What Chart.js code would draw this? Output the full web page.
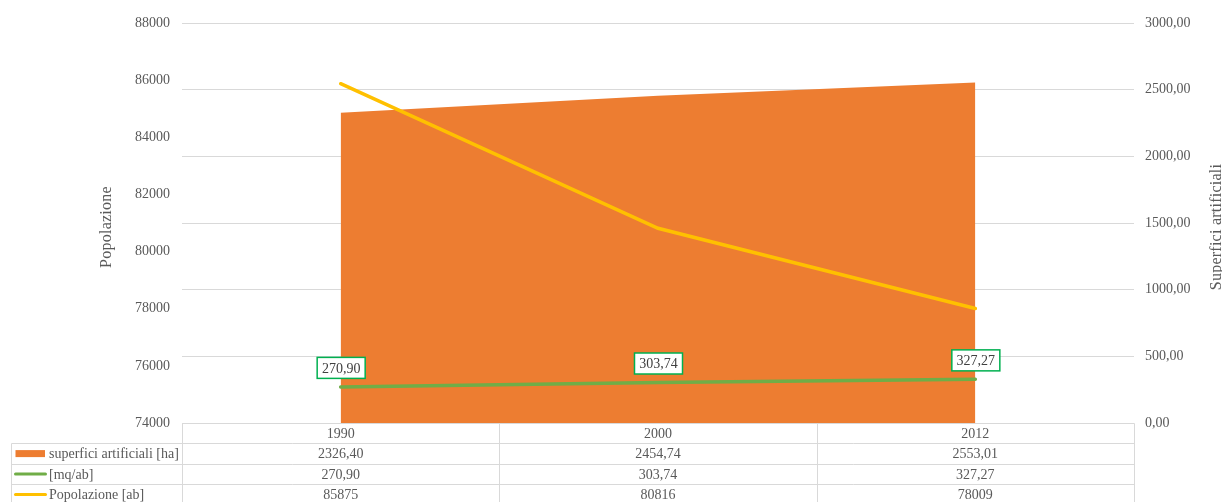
<!DOCTYPE html>
<html>
<head>
<meta charset="utf-8">
<script src="https://cdn.jsdelivr.net/npm/chart.js@4/dist/chart.umd.min.js"></script>
<style>
  html, body { margin: 0; padding: 0; background: #ffffff; }
  #wrap { width: 1222px; height: 502px; }
</style>
</head>
<body>
<div id="wrap"><canvas id="c" width="1222" height="502"></canvas></div>
<script>
// Years and series
const years = ['1990', '2000', '2012'];
const superficiArtificiali = [2326.40, 2454.74, 2553.01]; // ha
const mqPerAbitante = [270.90, 303.74, 327.27];           // mq/ab
const popolazione = [85875, 80816, 78009];                // ab

// Axis ranges
const popAxis = { min: 74000, max: 88000, step: 2000 };
const supAxis = { min: 0, max: 3000, step: 500 };

const seriesNames = ['superfici artificiali [ha]', '[mq/ab]', 'Popolazione [ab]'];

const FONT = '"Liberation Serif", "Times New Roman", serif';
const GRAY = '#595959';
const ORANGE = '#ED7D31';
const GREEN = '#70AD47';
const YELLOW = '#FFC000';

const comma2 = v => v.toFixed(2).replace('.', ',');

// Axis titles (both read bottom-to-top)
const axisTitles = {
  id: 'axisTitles',
  afterDraw(chart) {
    const { ctx, chartArea } = chart;
    const cy = (chartArea.top + chartArea.bottom) / 2 + 4;
    ctx.save();
    ctx.fillStyle = GRAY;
    ctx.font = '16px ' + FONT;
    if ('letterSpacing' in ctx) ctx.letterSpacing = '0.25px';
    ctx.textAlign = 'center';
    ctx.textBaseline = 'middle';
    [[107, 'Popolazione'], [1217, 'Superfici artificiali']].forEach(([x, t]) => {
      ctx.save();
      ctx.translate(x, cy);
      ctx.rotate(-Math.PI / 2);
      ctx.fillText(t, 0, 0);
      ctx.restore();
    });
    ctx.restore();
  }
};

// Value labels on the mq/ab line
const mqLabels = {
  id: 'mqLabels',
  afterDatasetsDraw(chart) {
    const { ctx } = chart;
    const meta = chart.getDatasetMeta(1);
    ctx.save();
    ctx.font = '14px ' + FONT;
    ctx.textAlign = 'center';
    ctx.textBaseline = 'middle';
    meta.data.forEach((pt, i) => {
      const txt = comma2(mqPerAbitante[i]);
      const w = 48, h = 21;
      const cx = pt.x + 0.5, cy = pt.y - 19;
      ctx.fillStyle = '#ffffff';
      ctx.fillRect(cx - w / 2, cy - h / 2, w, h);
      ctx.strokeStyle = '#00B050';
      ctx.lineWidth = 1.5;
      ctx.strokeRect(cx - w / 2, cy - h / 2, w, h);
      ctx.fillStyle = '#404040';
      ctx.fillText(txt, cx, cy + 1);
    });
    ctx.restore();
  }
};

// Data table under the plot, columns aligned to the category scale
const dataTable = {
  id: 'dataTable',
  afterDraw(chart) {
    const { ctx, chartArea } = chart;
    const xs = chart.scales.x;
    const n = years.length;
    const step = (chartArea.right - chartArea.left) / n;
    const top = chartArea.bottom;
    const rowH = 20.4;
    const legLeft = 11.5;
    const bottom = 502;
    const px = v => Math.round(v) + 0.5;

    ctx.save();
    ctx.strokeStyle = '#d9d9d9';
    ctx.lineWidth = 1;
    ctx.beginPath();
    // header top
    ctx.moveTo(px(chartArea.left), px(top));
    ctx.lineTo(px(chartArea.right), px(top));
    for (let r = 1; r <= 3; r++) {
      const y = px(top + r * rowH);
      ctx.moveTo(legLeft, y);
      ctx.lineTo(px(chartArea.right), y);
    }
    // verticals
    ctx.moveTo(legLeft, px(top + rowH));
    ctx.lineTo(legLeft, bottom);
    for (let c = 0; c <= n; c++) {
      const x = px(chartArea.left + c * step);
      ctx.moveTo(x, px(top));
      ctx.lineTo(x, bottom);
    }
    ctx.stroke();

    ctx.font = '14px ' + FONT;
    ctx.fillStyle = GRAY;
    ctx.textBaseline = 'middle';
    ctx.textAlign = 'center';
    // header: categories
    years.forEach((y, i) => {
      ctx.fillText(y, xs.getPixelForValue(i), top + rowH / 2 + 1);
    });
    const rows = [
      superficiArtificiali.map(comma2),
      mqPerAbitante.map(comma2),
      popolazione.map(v => String(v))
    ];
    rows.forEach((vals, r) => {
      const cy = top + rowH * (r + 1) + rowH / 2 + 1;
      ctx.textAlign = 'center';
      vals.forEach((t, i) => ctx.fillText(t, xs.getPixelForValue(i), cy));
      ctx.textAlign = 'left';
      ctx.fillText(seriesNames[r], 49, cy);
    });

    // legend keys
    const keyY = r => top + rowH * (r + 1) + rowH / 2;
    ctx.fillStyle = ORANGE;
    ctx.fillRect(15.5, keyY(0) - 3.5, 29.5, 7);
    ctx.lineCap = 'round';
    ctx.lineWidth = 3;
    ctx.strokeStyle = GREEN;
    ctx.beginPath(); ctx.moveTo(15.5, keyY(1)); ctx.lineTo(45.5, keyY(1)); ctx.stroke();
    ctx.strokeStyle = YELLOW;
    ctx.beginPath(); ctx.moveTo(15.5, keyY(2)); ctx.lineTo(45.5, keyY(2)); ctx.stroke();
    ctx.restore();
  }
};

new Chart(document.getElementById('c'), {
  type: 'line',
  data: {
    labels: years,
    datasets: [
      {
        label: seriesNames[0],
        data: superficiArtificiali,
        yAxisID: 'ySup',
        backgroundColor: ORANGE,
        borderWidth: 0,
        fill: 'origin',
        pointRadius: 0,
        tension: 0,
        order: 3
      },
      {
        label: seriesNames[1],
        data: mqPerAbitante,
        yAxisID: 'ySup',
        borderColor: GREEN,
        borderWidth: 3.5,
        borderCapStyle: 'round',
        fill: false,
        pointRadius: 0,
        tension: 0,
        order: 1
      },
      {
        label: seriesNames[2],
        data: popolazione,
        yAxisID: 'yPop',
        borderColor: YELLOW,
        borderWidth: 3.5,
        borderCapStyle: 'round',
        fill: false,
        pointRadius: 0,
        tension: 0,
        order: 2
      }
    ]
  },
  options: {
    responsive: false,
    animation: false,
    layout: { padding: { top: 23, bottom: 79, left: 0, right: 0 } },
    plugins: {
      legend: { display: false },
      tooltip: { enabled: false }
    },
    scales: {
      x: {
        type: 'category',
        offset: true,
        display: false
      },
      yPop: {
        position: 'left',
        min: popAxis.min,
        max: popAxis.max,
        ticks: {
          stepSize: popAxis.step,
          padding: 12,
          color: GRAY,
          font: { family: FONT, size: 14 },
          callback: v => String(v)
        },
        grid: { display: false, drawTicks: false },
        border: { display: false },
        afterFit(s) { s.width = 182; }
      },
      ySup: {
        position: 'right',
        min: supAxis.min,
        max: supAxis.max,
        ticks: {
          stepSize: supAxis.step,
          padding: 11,
          color: GRAY,
          font: { family: FONT, size: 14 },
          callback: v => comma2(v)
        },
        grid: { color: '#d9d9d9', lineWidth: 1, drawTicks: false },
        border: { display: false },
        afterFit(s) { s.width = 88; }
      }
    }
  },
  plugins: [axisTitles, mqLabels, dataTable]
});
</script>
</body>
</html>
